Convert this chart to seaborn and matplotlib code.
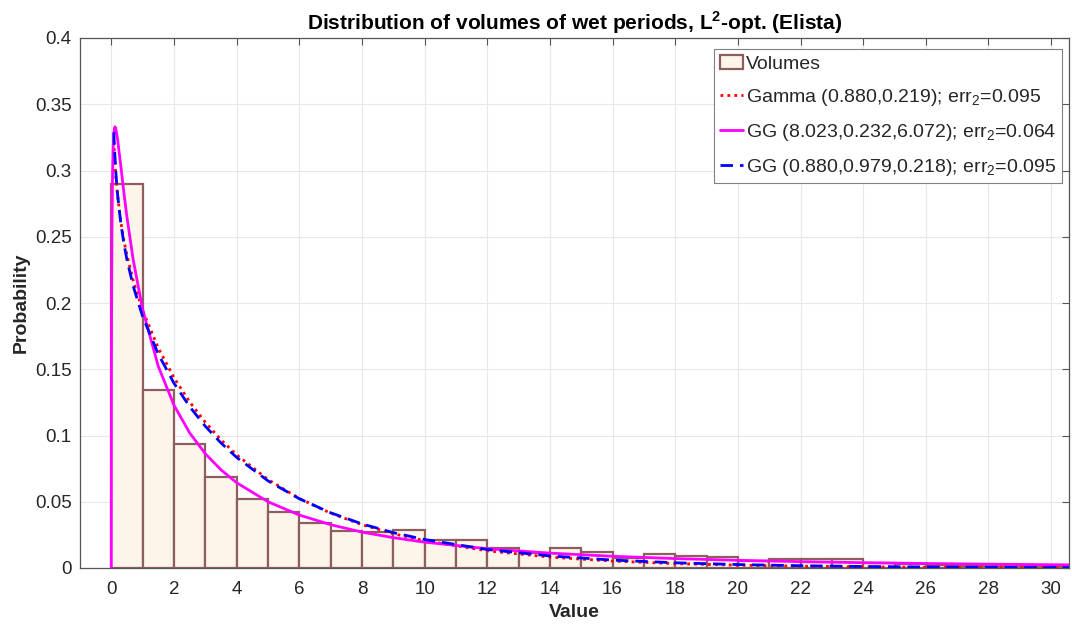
import numpy as np
import pandas as pd
import matplotlib
matplotlib.use("Agg")
import matplotlib.pyplot as plt
import seaborn as sns
from matplotlib.patches import Patch

# ---------------------------
# Data
# ---------------------------
bin_edges = list(range(0, 32))
volumes_prob = [0.290, 0.134, 0.0936, 0.0689, 0.0518, 0.0425, 0.0342, 0.0279,
                0.0269, 0.0289, 0.0214, 0.0214, 0.0148, 0.0115, 0.0148, 0.0121,
                0.0075, 0.0108, 0.0088, 0.0080, 0.0050, 0.0070, 0.0070, 0.0068,
                0.0035, 0.0030, 0.0020, 0.0018, 0.0015, 0.0012, 0.0010]

# Gamma (0.880, 0.219)
gamma_x = [0.08, 0.1, 0.15, 0.2, 0.3, 0.4, 0.5, 0.7, 1, 1.5, 2, 2.5, 3, 3.5, 4,
           5, 6, 7, 8, 9, 10, 12, 14, 16, 18, 20, 22, 24, 26, 28, 30, 31]
gamma_y = [0.3221, 0.3122, 0.2941, 0.2811, 0.2619, 0.2476, 0.2358, 0.2168,
           0.1945, 0.1660, 0.1437, 0.1254, 0.1100, 0.0968, 0.0854, 0.0668,
           0.0525, 0.0414, 0.0327, 0.0259, 0.0206, 0.01297, 0.00822, 0.00522,
           0.00332, 0.00212, 0.00135, 0.00086, 0.00055, 0.00035, 0.00023, 0.00018]

# GG (8.023, 0.232, 6.072)
gg1_x = [0, 0.005, 0.01, 0.02, 0.04, 0.06, 0.08, 0.1, 0.12, 0.15, 0.2, 0.3,
         0.4, 0.5, 0.7, 1, 1.5, 2, 2.5, 3, 3.5, 4, 5, 6, 7, 8, 9, 10, 12, 14,
         16, 18, 20, 22, 24, 26, 28, 30, 31]
gg1_y = [0.0, 0.1494, 0.1991, 0.2513, 0.2977, 0.3179, 0.3274, 0.3317, 0.3330,
         0.3309, 0.3237, 0.3040, 0.2837, 0.2648, 0.2325, 0.1952, 0.1522, 0.1229,
         0.1020, 0.0863, 0.0741, 0.0644, 0.0500, 0.0400, 0.0327, 0.0271, 0.0229,
         0.0195, 0.01458, 0.01123, 0.00886, 0.00712, 0.00581, 0.00481, 0.00402,
         0.00340, 0.00289, 0.00248, 0.00231]

# GG (0.880, 0.979, 0.218)
gg2_x = gamma_x
gg2_y = [0.3288, 0.3173, 0.2967, 0.2820, 0.2608, 0.2452, 0.2326, 0.2127,
         0.1898, 0.1614, 0.1395, 0.1218, 0.1070, 0.0944, 0.0835, 0.0658,
         0.0523, 0.0417, 0.0333, 0.0267, 0.0215, 0.01396, 0.00912, 0.00598,
         0.00394, 0.00260, 0.00172, 0.00114, 0.00075, 0.00050, 0.00033, 0.00027]

x_ticks = list(range(0, 31, 2))
y_ticks = [0, 0.05, 0.1, 0.15, 0.2, 0.25, 0.3, 0.35, 0.4]
y_tick_labels = ["0", "0.05", "0.1", "0.15", "0.2", "0.25", "0.3", "0.35", "0.4"]

labels = ["Volumes",
          r"Gamma (0.880,0.219); err$_2$=0.095",
          r"GG (8.023,0.232,6.072); err$_2$=0.064",
          r"GG (0.880,0.979,0.218); err$_2$=0.095"]

# ---------------------------
# Style
# ---------------------------
sns.set_theme(style="white")
plt.rcParams["font.family"] = ["Liberation Sans", "DejaVu Sans"]
plt.rcParams["mathtext.fontset"] = "custom"
plt.rcParams["mathtext.rm"] = "Liberation Sans"
plt.rcParams["mathtext.bf"] = "Liberation Sans:bold"

axis_col = "#555555"
text_col = "#262626"

fig = plt.figure(figsize=(10.72, 6.25), dpi=100)
ax = fig.add_axes([0.0746, 0.0912, 0.9226, 0.848])

# ---------------------------
# Histogram
# ---------------------------
centers = [e + 0.5 for e in bin_edges[:-1]]
sns.histplot(x=centers, weights=volumes_prob, bins=bin_edges, stat="count",
             color="#FDF5EA", edgecolor="#8E5E5E", linewidth=1.6, alpha=1,
             ax=ax)

# ---------------------------
# Fitted curves
# ---------------------------
sns.lineplot(x=gamma_x, y=gamma_y, ax=ax, color="#FF0000", lw=2,
             linestyle=(0, (1, 1.5)), label=labels[1], sort=False)
sns.lineplot(x=gg1_x, y=gg1_y, ax=ax, color="#FF00FF", lw=2,
             linestyle="-", label=labels[2], sort=False)
sns.lineplot(x=gg2_x, y=gg2_y, ax=ax, color="#0000FF", lw=2,
             linestyle=(0, (4.5, 2.5)), label=labels[3], sort=False)

# ---------------------------
# Axes
# ---------------------------
ax.set_xlim(-1, 30.57)
ax.set_ylim(0, 0.4)
ax.set_xticks(x_ticks)
ax.set_yticks(y_ticks)
ax.set_yticklabels(y_tick_labels)
ax.grid(True, color="#E8E8E8", lw=0.8)
ax.set_axisbelow(True)
ax.tick_params(direction="in", length=5, width=0.8, colors=axis_col,
               labelcolor=text_col, labelsize=13.5, top=True, right=True)
ax.tick_params(axis="x", pad=9)
ax.tick_params(axis="y", pad=6)
for sp in ax.spines.values():
    sp.set_color(axis_col)
    sp.set_linewidth(0.9)

ax.set_xlabel("Value", fontsize=14, fontweight="bold", color=text_col, labelpad=5)
ax.set_ylabel("Probability", fontsize=14, fontweight="bold", color=text_col, labelpad=4)
ax.set_title(r"Distribution of volumes of wet periods, L$^\mathbf{2}$-opt. (Elista)",
             fontsize=15, fontweight="bold", color="#000000", pad=6)

handles, _ = ax.get_legend_handles_labels()
vol_patch = Patch(facecolor="#FDF5EA", edgecolor="#8E5E5E", linewidth=1.6)
leg = ax.legend([vol_patch] + handles, labels, loc="upper right",
                bbox_to_anchor=(0.993, 0.979), borderaxespad=0,
                fontsize=14, handlelength=1.2, handletextpad=0.15,
                labelspacing=0.72, borderpad=0.3, fancybox=False,
                framealpha=1, edgecolor="#808080")
leg.get_frame().set_linewidth(0.8)

fig.savefig("out.png", dpi=100)
